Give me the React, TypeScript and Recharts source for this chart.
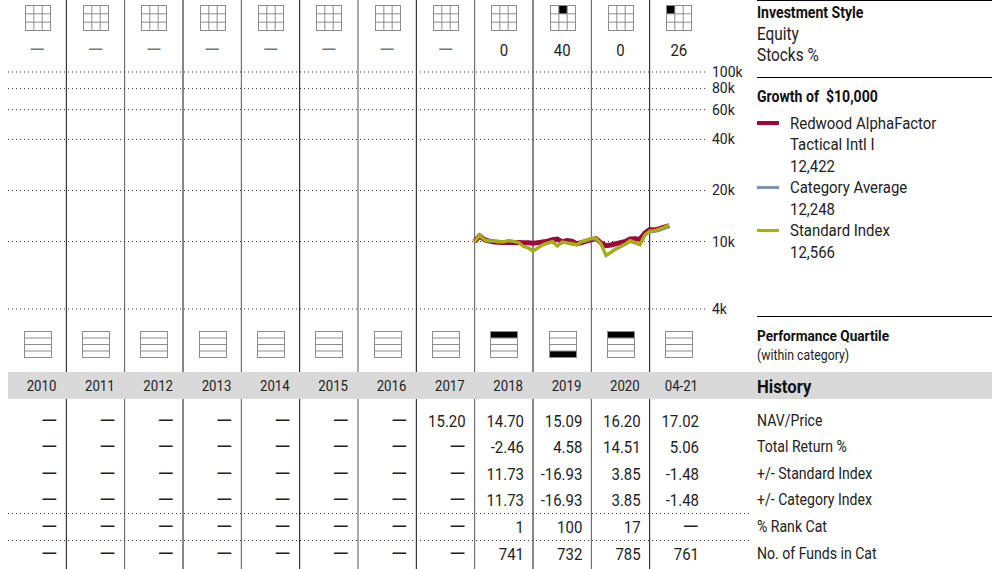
import { LineChart, Line, XAxis, YAxis, CartesianGrid } from "recharts";

const years = ["2010", "2011", "2012", "2013", "2014", "2015", "2016", "2017", "2018", "2019", "2020", "04-21"];
const stocksPct = ["—", "—", "—", "—", "—", "—", "—", "—", "0", "40", "0", "26"];
// filled cell of the 3x3 style box (row*3+col), -1 = none
const styleCell = [-1, -1, -1, -1, -1, -1, -1, -1, -1, 1, -1, 0];
// quartile 1..4, 0 = none
const quartiles = [0, 0, 0, 0, 0, 0, 0, 0, 1, 4, 1, 0];

const navPrice = ["—", "—", "—", "—", "—", "—", "—", "15.20", "14.70", "15.09", "16.20", "17.02"];
const totalReturn = ["—", "—", "—", "—", "—", "—", "—", "—", "-2.46", "4.58", "14.51", "5.06"];
const plusStdIndex = ["—", "—", "—", "—", "—", "—", "—", "—", "11.73", "-16.93", "3.85", "-1.48"];
const plusCatIndex = ["—", "—", "—", "—", "—", "—", "—", "—", "11.73", "-16.93", "3.85", "-1.48"];
const rankCat = ["—", "—", "—", "—", "—", "—", "—", "—", "1", "100", "17", "—"];
const fundsInCat = ["—", "—", "—", "—", "—", "—", "—", "—", "741", "732", "785", "761"];
const rowLabels = ["NAV/Price", "Total Return %", "+/- Standard Index", "+/- Category Index", "% Rank Cat", "No. of Funds in Cat"];

// monthly growth of $10,000, Dec 2017 .. Apr 2021 (month 96 = end of 2017)
const firstMonth = 96;
const fundValues = [
  10000, 10800, 10250, 10050, 9950, 9900, 9880, 9880, 9870, 9860, 9850, 9840, 9760,
  9850, 9950, 10050, 10250, 10350, 9950, 10150, 10050, 9700, 9850, 10050, 10250,
  10400, 9800, 9450, 9550, 9700, 9850, 10000, 10350, 10400, 10300, 11200, 11750,
  11700, 11900, 12150, 12422,
];
const categoryValues = [
  10000, 10850, 10200, 10050, 10050, 9950, 9950, 10100, 10000, 9850, 9350, 9150, 8750,
  9150, 9550, 9750, 9950, 9400, 9900, 9800, 9650, 9550, 9950, 10100, 10400,
  10350, 9650, 8250, 8600, 9000, 9300, 9600, 10000, 9800, 9550, 10850, 11400,
  11450, 11700, 11950, 12248,
];
const indexValues = [
  10000, 10900, 10250, 10100, 10100, 10000, 10000, 10150, 10050, 9900, 9400, 9200, 8800,
  9200, 9600, 9800, 10000, 9450, 9950, 9850, 9750, 9600, 10000, 10200, 10500,
  10450, 9700, 8340, 8650, 9050, 9380, 9690, 10140, 9900, 9600, 10950, 11550,
  11620, 11880, 12160, 12566,
];
const yTicks = [4000, 10000, 20000, 40000, 60000, 80000, 100000];

const growthData = fundValues.map((v, i) => ({
  m: firstMonth + i,
  fund: v,
  cat: categoryValues[i],
  idx: indexValues[i],
}));

const FONT = "Roboto, 'Liberation Sans', sans-serif";
const SQUEEZE = 0.88; // no condensed face installed, so squeeze horizontally
const LEFT = 8;
const PLOT_W = 700;
const colW = PLOT_W / 12;
const colX = (i: number) => LEFT + colW * i;
const PANEL_X = 757;

type TProps = {
  x: number;
  y: number;
  size: number;
  anchor?: "start" | "middle" | "end";
  bold?: boolean;
  fill?: string;
  sx?: number;
  children: string;
};

function T({ x, y, size, anchor = "start", bold, fill = "#222", sx = SQUEEZE, children }: TProps) {
  return (
    <text
      transform={`translate(${x},${y}) scale(${sx},1)`}
      textAnchor={anchor}
      dominantBaseline="central"
      fontSize={size}
      fontWeight={bold ? "bold" : "normal"}
      fill={fill}
      style={{ whiteSpace: "pre" }}
    >
      {children}
    </text>
  );
}

function StyleBox({ cx, filled }: { cx: number; filled: number }) {
  const s = 25;
  const c = s / 3;
  const x0 = Math.round(cx - s / 2) + 0.5;
  const y0 = 5.5;
  return (
    <g>
      {filled >= 0 && (
        <rect x={x0 + (filled % 3) * c} y={y0 + Math.floor(filled / 3) * c} width={c} height={c} fill="#000" />
      )}
      <rect x={x0} y={y0} width={s} height={s} fill="none" stroke="#8c8c8c" />
      {[1, 2].map((k) => (
        <g key={k}>
          <line x1={x0 + k * c} x2={x0 + k * c} y1={y0} y2={y0 + s} stroke="#8c8c8c" />
          <line x1={x0} x2={x0 + s} y1={y0 + k * c} y2={y0 + k * c} stroke="#8c8c8c" />
        </g>
      ))}
    </g>
  );
}

function QuartileBox({ cx, q }: { cx: number; q: number }) {
  const w = 27;
  const h = 26;
  const r = h / 4;
  const x0 = Math.round(cx - w / 2) + 0.5;
  const y0 = 331.5;
  return (
    <g>
      {q > 0 && <rect x={x0} y={y0 + (q - 1) * r} width={w} height={r} fill="#000" />}
      <rect x={x0} y={y0} width={w} height={h} fill="none" stroke="#8c8c8c" />
      {[1, 2, 3].map((k) => (
        <line key={k} x1={x0} x2={x0 + w} y1={y0 + k * r} y2={y0 + k * r} stroke="#8c8c8c" />
      ))}
    </g>
  );
}

export default function App() {
  const tableRows = [navPrice, totalReturn, plusStdIndex, plusCatIndex, rankCat, fundsInCat];
  const rowY = [421, 447, 474, 500, 527, 554];
  const legend = [
    { color: "#9b0a3b", w: 4, lines: ["Redwood AlphaFactor", "Tactical Intl I", "12,422"] },
    { color: "#7f95b6", w: 3, lines: ["Category Average", "12,248"] },
    { color: "#a9b000", w: 3, lines: ["Standard Index", "12,566"] },
  ];
  let ly = 123;

  return (
    <div style={{ position: "fixed", left: 0, top: 0, width: 1002, height: 569, background: "#fff", fontFamily: FONT }}>
      <svg width={1002} height={569} style={{ position: "absolute", left: 0, top: 0 }} fontFamily={FONT}>
        {years.slice(1).map((_, k) => (
          <line key={k} x1={colX(k + 1)} x2={colX(k + 1)} y1={0} y2={569} stroke={k % 2 ? "#555" : "#111"} strokeWidth={1} />
        ))}
        <rect x={LEFT} y={372} width={992 - LEFT} height={27} fill="#d9d9d9" />
        {years.map((y, i) => (
          <T key={y} x={colX(i + 1) - 10} y={386} size={15} anchor="end">
            {y}
          </T>
        ))}

        {years.map((_, i) => (
          <g key={i}>
            <StyleBox cx={colX(i) + colW / 2} filled={styleCell[i]} />
            {stocksPct[i] === "—" ? (
              <T x={colX(i) + colW / 2} y={50} size={20} anchor="middle" fill="#777" sx={1}>
                {stocksPct[i]}
              </T>
            ) : (
              <T x={colX(i) + colW / 2} y={50} size={17} anchor="middle">
                {stocksPct[i]}
              </T>
            )}
            <QuartileBox cx={colX(i) + colW / 2} q={quartiles[i]} />
          </g>
        ))}

        {tableRows.map((row, r) =>
          row.map((v, i) =>
            v === "—" ? (
              <T key={`${r}-${i}`} x={colX(i + 1) - 9} y={rowY[r]} size={21} anchor="end" sx={1}>
                {v}
              </T>
            ) : (
              <T key={`${r}-${i}`} x={colX(i + 1) - 9} y={rowY[r]} size={17} anchor="end">
                {v}
              </T>
            )
          )
        )}
        {rowLabels.map((l, r) => (
          <T key={l} x={PANEL_X} y={rowY[r]} size={16}>
            {l}
          </T>
        ))}
        {[513.5, 540.5].map((y) => (
          <line key={y} x1={LEFT} x2={750} y1={y} y2={y} stroke="#333" strokeDasharray="1 3" />
        ))}

        {/* right panel */}
        <line x1={PANEL_X} x2={992} y1={0.5} y2={0.5} stroke="#000" />
        <T x={PANEL_X} y={13} size={16} bold fill="#111">
          Investment Style
        </T>
        <T x={PANEL_X} y={34} size={17.5}>
          Equity
        </T>
        <T x={PANEL_X} y={55} size={17.5}>
          Stocks %
        </T>
        <line x1={PANEL_X} x2={992} y1={77.5} y2={77.5} stroke="#000" />
        <T x={PANEL_X} y={97} size={16} bold fill="#111">
          {"Growth of  $10,000"}
        </T>
        {legend.map((item) => {
          const y0 = ly;
          ly += item.lines.length * 21.5;
          return (
            <g key={item.lines[0]}>
              <line x1={PANEL_X} x2={779} y1={y0} y2={y0} stroke={item.color} strokeWidth={item.w} />
              {item.lines.map((t, k) => (
                <T key={t} x={790} y={y0 + k * 21.5} size={17}>
                  {t}
                </T>
              ))}
            </g>
          );
        })}
        <line x1={PANEL_X} x2={992} y1={316.5} y2={316.5} stroke="#000" />
        <T x={PANEL_X} y={336} size={15.5} bold fill="#111">
          Performance Quartile
        </T>
        <T x={PANEL_X} y={355} size={14}>
          (within category)
        </T>
        <T x={PANEL_X} y={386} size={19} bold fill="#111">
          History
        </T>
      </svg>

      <div style={{ position: "absolute", left: LEFT, top: 62 }}>
        <LineChart width={PLOT_W + 42} height={257} data={growthData} margin={{ top: 10, right: 0, bottom: 10, left: 0 }}>
          <CartesianGrid vertical={false} stroke="#333" strokeDasharray="1 3" />
          <XAxis dataKey="m" type="number" domain={[0, 144]} hide height={0} />
          <YAxis
            orientation="right"
            scale="log"
            domain={[4000, 100000]}
            ticks={yTicks}
            interval={0}
            allowDataOverflow
            width={42}
            axisLine={false}
            tickLine={false}
            tickSize={0}
            tickMargin={4}
            tick={{ fontSize: 14, fill: "#222", fontFamily: FONT }}
            tickFormatter={(v: number) => `${v / 1000}k`}
          />
          <Line type="linear" dataKey="fund" stroke="#9b0a3b" strokeWidth={5} dot={false} isAnimationActive={false} />
          <Line type="linear" dataKey="cat" stroke="#7f95b6" strokeWidth={3} dot={false} isAnimationActive={false} />
          <Line type="linear" dataKey="idx" stroke="#a9b000" strokeWidth={3} dot={false} isAnimationActive={false} />
        </LineChart>
      </div>
    </div>
  );
}
